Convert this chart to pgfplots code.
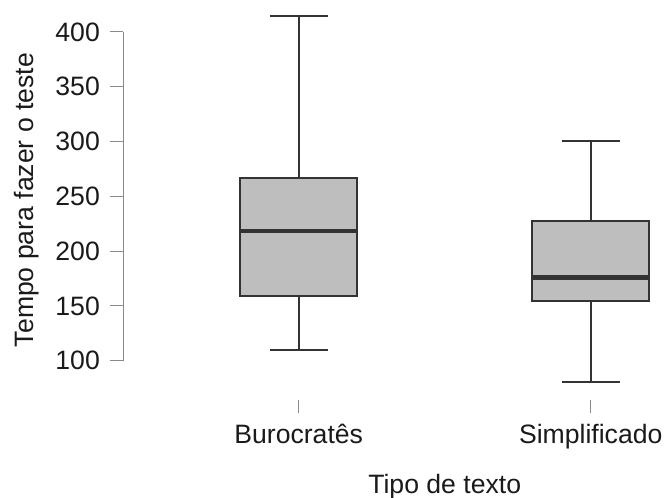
\documentclass[border=0pt]{standalone}
\usepackage{fontspec}
\setmainfont{Liberation Sans}
\usepackage{pgfplots}
\pgfplotsset{compat=1.18}
\usepgfplotslibrary{statistics}
\definecolor{boxfill}{HTML}{BEBEBE}
\definecolor{boxline}{HTML}{333333}
\definecolor{txt}{HTML}{1A1A1A}
\definecolor{axgray}{HTML}{8A8A8A}
\begin{document}
\begin{tikzpicture}
\useasboundingbox (-61.65pt,-48.85pt) rectangle (270.35pt,200.15pt);
\begin{axis}[
  at={(0pt,0pt)}, anchor=south west,
  scale only axis,
  width=270.35pt, height=200.15pt,
  xmin=0.3993, xmax=2.251,
  ymin=63.86, ymax=429.1,
  axis lines*=left,
  x axis line style={draw=none},
  y axis line style={draw=none},
  clip=false,
  tick align=outside,
  major tick length=6.5pt,
  tick style={color=axgray, line width=0.5pt},
  xtick={1,2},
  xticklabels={Burocratês,Simplificado},
  ytick={100,150,200,250,300,350,400},
  minor tick num=0,
  /pgf/number format/assume math mode=true,
  font=\fontsize{13.3}{16}\selectfont,
  every tick label/.append style={text=txt},
  yticklabel style={anchor=east, xshift=-1.7pt},
  xticklabel style={anchor=base, yshift=-15pt},
  xlabel={Tipo de texto},
  ylabel={Tempo para fazer o teste},
  xlabel style={at={(axis description cs:0.5944,-0.2323)}, anchor=base, text=txt},
  ylabel style={at={(axis description cs:-0.16645,0.5004)}, anchor=base, text=txt},
  boxplot/draw direction=y,
]
\addplot[axgray, line width=0.5pt, mark=none] coordinates {(0.3993,100) (0.3993,400)};
\addplot[boxplot prepared={
    lower whisker=109.8, lower quartile=159.0, median=218.3,
    upper quartile=266.4, upper whisker=414.5, draw position=1,
    box extend=0.4, whisker extend=0.2,
    every median/.style={line width=2.2pt}},
  draw=boxline, fill=boxfill, line width=1.1pt, solid]
  coordinates {};
\addplot[boxplot prepared={
    lower whisker=80.8, lower quartile=154.7, median=176.0,
    upper quartile=227.5, upper whisker=300.7, draw position=2,
    box extend=0.4, whisker extend=0.2,
    every median/.style={line width=2.2pt}},
  draw=boxline, fill=boxfill, line width=1.1pt, solid]
  coordinates {};
\end{axis}
\end{tikzpicture}
\end{document}
